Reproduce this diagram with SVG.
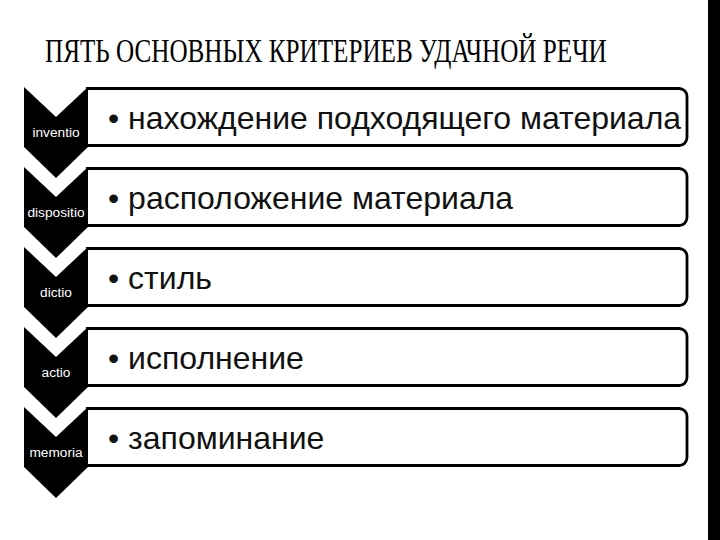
<svg xmlns="http://www.w3.org/2000/svg" width="720" height="540" viewBox="0 0 720 540">
<style>
.chev{fill:#000}
.box{fill:#fff;stroke:#000;stroke-width:2.8}
.lbl{font-family:"Liberation Sans",Arial,sans-serif;font-size:13.7px;fill:#fff;text-anchor:middle}
.txt{font-family:"Liberation Sans",Arial,sans-serif;font-size:32px;fill:#111}
.title{font-family:"Liberation Serif","Times New Roman",serif;font-size:33px;fill:#000}
</style>
<defs>
<polygon id="chevron" points="24,0 56,30 88,0 88,60 56,91 24,60"/>
<path id="boxshape" d="M86,0.5 H679 a8,8 0 0 1 8,8 V49.5 a8,8 0 0 1 -8,8 H86"/>
</defs>
<rect x="0" y="0" width="720" height="540" fill="#fff"/>
<rect x="708" y="0" width="12" height="540" fill="#000"/>
<text class="title" transform="translate(45,62) scale(0.762,1)" x="0" y="0">ПЯТЬ ОСНОВНЫХ КРИТЕРИЕВ УДАЧНОЙ РЕЧИ</text>

<g id="node1">
<use href="#boxshape" class="box" transform="translate(0,88)"/>
<use href="#chevron" class="chev" transform="translate(0,87)"/>
<text class="lbl" x="56" y="137">inventio</text>
<text class="txt" x="108" y="129">• нахождение подходящего материала</text>
</g>
<g id="node2">
<use href="#boxshape" class="box" transform="translate(0,168)"/>
<use href="#chevron" class="chev" transform="translate(0,167)"/>
<text class="lbl" x="56" y="217">dispositio</text>
<text class="txt" x="108" y="209">• расположение материала</text>
</g>
<g id="node3">
<use href="#boxshape" class="box" transform="translate(0,248)"/>
<use href="#chevron" class="chev" transform="translate(0,247)"/>
<text class="lbl" x="56" y="297">dictio</text>
<text class="txt" x="108" y="289">• стиль</text>
</g>
<g id="node4">
<use href="#boxshape" class="box" transform="translate(0,328)"/>
<use href="#chevron" class="chev" transform="translate(0,327)"/>
<text class="lbl" x="56" y="377">actio</text>
<text class="txt" x="108" y="369">• исполнение</text>
</g>
<g id="node5">
<use href="#boxshape" class="box" transform="translate(0,408)"/>
<use href="#chevron" class="chev" transform="translate(0,407)"/>
<text class="lbl" x="56" y="457">memoria</text>
<text class="txt" x="108" y="449">• запоминание</text>
</g>
<g id="connectors"/>
</svg>
